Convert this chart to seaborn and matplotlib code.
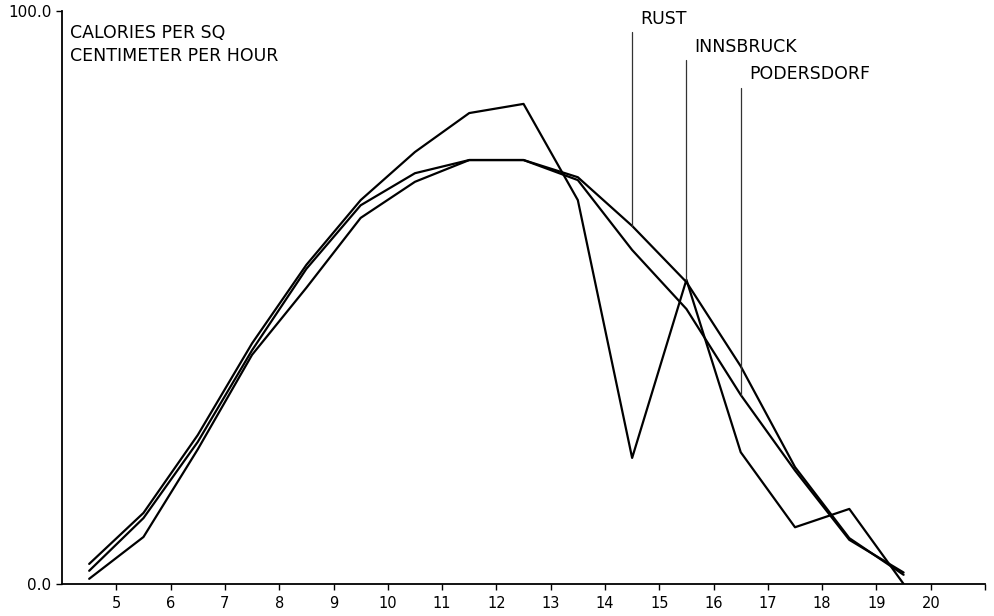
import pandas as pd
import matplotlib
matplotlib.use("Agg")
import matplotlib.pyplot as plt
import seaborn as sns

# half-hour midpoints of each hourly interval
hours = [4.5, 5.5, 6.5, 7.5, 8.5, 9.5, 10.5, 11.5, 12.5, 13.5, 14.5, 15.5, 16.5, 17.5, 18.5, 19.5]

rust = [2.3, 11.5, 24.8, 40.8, 55.0, 66.1, 71.7, 74.0, 74.0, 71.0, 62.5, 52.7, 38.0, 20.4, 8.0, 1.6]
innsbruck = [3.5, 12.4, 26.0, 42.0, 55.7, 67.0, 75.4, 82.2, 83.8, 67.0, 22.0, 53.1, 23.0, 9.9, 13.1, 0.0]
podersdorf = [0.9, 8.2, 23.5, 40.0, 51.7, 63.9, 70.2, 74.0, 74.0, 70.5, 58.3, 48.0, 33.0, 19.8, 7.7, 2.0]

sites = ["RUST", "INNSBRUCK", "PODERSDORF"]
label_hours = [14.5, 15.5, 16.5]
label_tops = [96.3, 91.4, 86.6]

x_ticks = list(range(5, 22))
x_labels = [str(h) for h in range(5, 21)] + [""]

df = pd.DataFrame({
    "hour": hours * 3,
    "cal": rust + innsbruck + podersdorf,
    "site": ["RUST"] * len(hours) + ["INNSBRUCK"] * len(hours) + ["PODERSDORF"] * len(hours),
})

sns.set_style("ticks")
plt.rcParams["font.family"] = ["DejaVu Sans"]
plt.rcParams["text.color"] = "black"
plt.rcParams["xtick.color"] = "black"
plt.rcParams["ytick.color"] = "black"

fig = plt.figure(figsize=(9.94, 6.16), dpi=100)
ax = fig.add_axes([0.0624, 0.052, 0.9286, 0.930])

sns.lineplot(data=df, x="hour", y="cal", hue="site", hue_order=sites,
             palette=["black"] * 3, linewidth=1.6, legend=False, ax=ax,
             sort=False)

# leader lines from each labelled curve up to its name
series = {"RUST": rust, "INNSBRUCK": innsbruck, "PODERSDORF": podersdorf}
for name, lh, top in zip(sites, label_hours, label_tops):
    yv = series[name][hours.index(lh)]
    ax.plot([lh, lh], [yv, top], color="#333333", lw=0.9)
    ax.text(lh + 0.15, top + 0.8, name, fontsize=12.5, ha="left", va="bottom")

ax.text(4.15, 97.8, "CALORIES PER SQ\nCENTIMETER PER HOUR", fontsize=12.5,
        ha="left", va="top", linespacing=1.4)

ax.set_xlim(4, 21)
ax.set_ylim(0, 100)
ax.set_xticks(x_ticks)
ax.set_xticklabels(x_labels, fontsize=10.5)
ax.set_yticks([0, 100])
ax.set_yticklabels(["0.0", "100.0"], fontsize=11)
ax.tick_params(axis="both", length=4, width=1, color="black")
ax.tick_params(axis="x", pad=5)
ax.set_xlabel("")
ax.set_ylabel("")
sns.despine(ax=ax)
for s in ["left", "bottom"]:
    ax.spines[s].set_linewidth(1.3)
    ax.spines[s].set_color("black")

fig.savefig("out.png", dpi=100)
